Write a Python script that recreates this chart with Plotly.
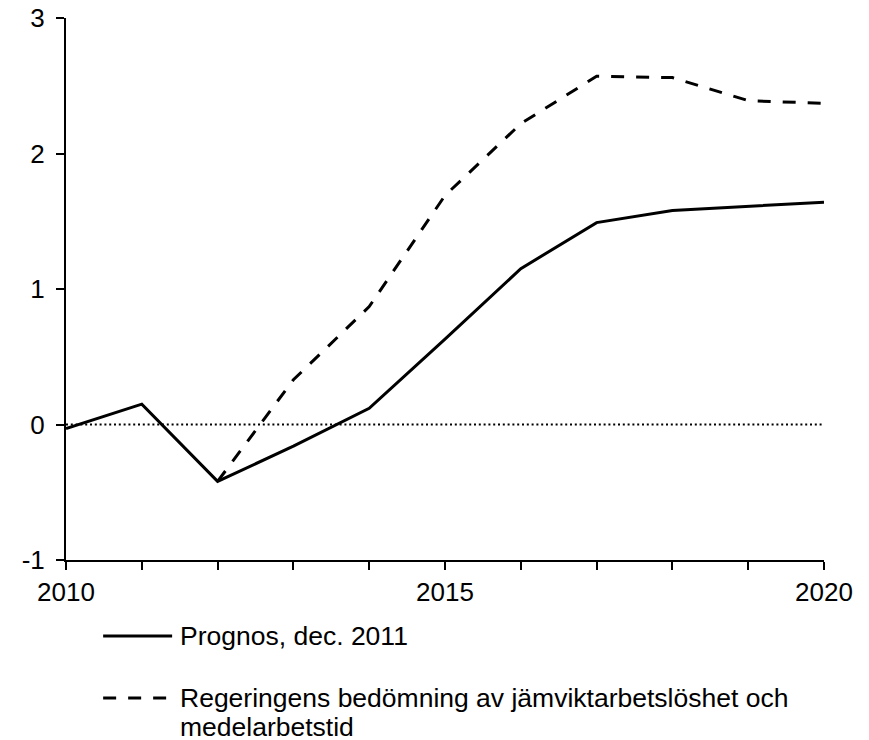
"""Arbetslöshet: prognos dec. 2011 jämfört med regeringens bedömning."""

import plotly.graph_objects as go

years = list(range(2010, 2021))
prognos = [-0.03, 0.15, -0.42, -0.16, 0.12, 0.63, 1.15, 1.49, 1.58, 1.61, 1.64]
regeringen = [None, None, -0.42, 0.33, 0.87, 1.69, 2.22, 2.57, 2.56, 2.39, 2.37]

names = [
    "Prognos, dec. 2011",
    "Regeringens bedömning av jämviktarbetslöshet och<br>medelarbetstid",
]
x_ticktext = ["2010", "", "", "", "", "2015", "", "", "", "", "2020"]
y_ticks = [-1, 0, 1, 2, 3]

FONT = "Liberation Sans, Arial, sans-serif"
DASH = "13px,12px"

fig = go.Figure()

# dashed first so the solid line is on top at 2012
fig.add_trace(
    go.Scatter(
        x=years, y=regeringen, mode="lines", name=names[1],
        line={"color": "black", "width": 3, "dash": DASH},
        connectgaps=False,
    )
)
fig.add_trace(
    go.Scatter(
        x=years, y=prognos, mode="lines", name=names[0],
        line={"color": "black", "width": 3},
    )
)

# dotted zero line
fig.add_shape(
    type="line", xref="x", yref="y", x0=years[0], x1=years[-1], y0=0, y1=0,
    line={"color": "black", "width": 2, "dash": "2px,2.8px"}, layer="below",
)

# legend drawn by hand (long line samples below the plot);
# text lines placed one by one to get the tighter line spacing
legend_rows = [(-0.140, None), (-0.2546, DASH)]
LINE_STEP = 0.0535
for name, (y_row, dash) in zip(names, legend_rows):
    fig.add_shape(
        type="line", xref="paper", yref="paper", x0=0.049, x1=0.140,
        y0=y_row, y1=y_row,
        line={"color": "black", "width": 3, "dash": dash or "solid"},
    )
    for i, part in enumerate(name.split("<br>")):
        fig.add_annotation(
            xref="paper", yref="paper", x=0.148, y=y_row - i * LINE_STEP,
            text=part, showarrow=False, xanchor="left", yanchor="middle",
            font={"family": FONT, "size": 26.5, "color": "black"},
        )

axis_style = {
    "ticks": "outside",
    "ticklen": 8,
    "tickwidth": 2,
    "tickcolor": "black",
    "showline": True,
    "linecolor": "black",
    "linewidth": 2,
    "showgrid": False,
    "zeroline": False,
    "automargin": False,
    "ticklabeloverflow": "allow",
}

fig.update_layout(
    width=861,
    height=732,
    margin={"l": 58, "r": 45, "t": 10, "b": 180},
    plot_bgcolor="white",
    paper_bgcolor="white",
    showlegend=False,
    font={"family": FONT, "size": 26, "color": "black"},
    xaxis={
        "range": [years[0], years[-1]],
        "tickvals": years,
        "ticktext": x_ticktext,
        **axis_style,
    },
    yaxis={
        "range": [-1, 3],
        "tickvals": y_ticks,
        "ticktext": [str(v) for v in y_ticks],
        "ticklabelstandoff": 6,
        **axis_style,
    },
)

fig.write_html("out.html")
